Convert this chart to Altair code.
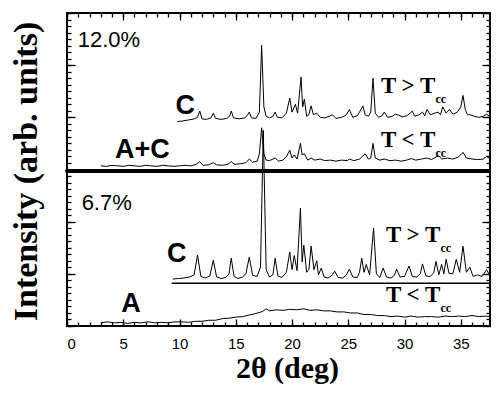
import altair as alt
import pandas as pd

# ---------------- data (2theta in deg, intensity in arb. units, panels stacked) ----------------
A_x = [3.0, 3.6, 4.2, 4.8, 5.4, 6.0, 6.6, 7.2, 7.8, 8.4, 9.0, 9.6, 10.2, 10.8, 11.4, 12.0, 12.6,
       13.2, 13.8, 14.4, 15.0, 15.6, 16.2, 16.8, 17.4, 17.7, 18.0, 18.6, 19.2, 19.8, 20.4, 21.0,
       21.6, 22.2, 22.8, 23.4, 24.0, 24.6, 25.2, 25.8, 26.4, 27.0, 27.6, 28.2, 28.8, 29.4, 30.0,
       30.6, 31.2, 31.8, 32.4, 33.0, 33.6, 34.2, 34.8, 35.4, 36.0, 36.6, 37.2, 37.6]
A_y = [0.06, 0.08, 0.06, 0.07, 0.05, 0.07, 0.06, 0.08, 0.06, 0.07, 0.06, 0.08, 0.08, 0.07, 0.09,
       0.09, 0.11, 0.11, 0.14, 0.15, 0.17, 0.18, 0.21, 0.24, 0.28, 0.33, 0.29, 0.31, 0.30, 0.32,
       0.31, 0.33, 0.30, 0.31, 0.29, 0.29, 0.27, 0.27, 0.25, 0.25, 0.22, 0.22, 0.20, 0.20, 0.18,
       0.19, 0.17, 0.19, 0.17, 0.18, 0.18, 0.17, 0.19, 0.18, 0.19, 0.18, 0.20, 0.18, 0.19, 0.18]

CB_x = [9.4, 9.9, 10.4, 10.9, 11.3, 11.6, 11.9, 12.3, 12.7, 13.0, 13.3, 13.7, 14.1, 14.4, 14.6,
        14.85, 15.2, 15.6, 15.9, 16.2, 16.5, 16.9, 17.2, 17.45, 17.7, 18.0, 18.3, 18.5, 18.75,
        19.1, 19.5, 19.8, 20.0, 20.2, 20.45, 20.75, 20.9, 21.05, 21.3, 21.5, 21.7, 21.95, 22.2,
        22.35, 22.6, 22.85, 23.2, 23.5, 23.8, 24.1, 24.5, 24.8, 25.1, 25.4, 25.8, 26.0, 26.2,
        26.4, 26.6, 26.9, 27.25, 27.5, 27.8, 28.1, 28.4, 28.8, 29.1, 29.3, 29.6, 30.0, 30.4,
        30.7, 31.1, 31.4, 31.6, 31.9, 32.3, 32.6, 32.8, 33.05, 33.3, 33.5, 33.7, 33.95, 34.3,
        34.6, 34.9, 35.2, 35.5, 35.8, 36.1, 36.5, 36.9, 37.3, 37.6]
CB_y = [0.90, 0.91, 0.92, 0.94, 0.98, 1.36, 0.95, 0.92, 0.96, 1.26, 0.94, 0.91, 0.93, 1.00, 1.30,
        0.95, 0.91, 0.94, 1.00, 1.32, 0.97, 0.95, 1.13, 3.75, 1.08, 0.94, 0.98, 1.30, 0.96,
        0.93, 1.03, 1.42, 1.08, 1.35, 1.06, 2.26, 1.23, 1.55, 1.03, 1.08, 1.53, 1.08, 1.25,
        0.98, 1.11, 0.94, 0.92, 0.96, 1.05, 0.93, 0.92, 0.97, 1.09, 0.94, 0.93, 1.03, 1.30,
        1.03, 1.18, 0.98, 1.88, 1.00, 0.93, 1.11, 0.94, 0.92, 0.97, 1.09, 0.94, 0.95, 1.15,
        0.95, 0.94, 1.00, 1.19, 0.96, 0.95, 1.02, 1.24, 0.98, 1.18, 1.00, 1.28, 1.01, 1.00,
        1.28, 1.03, 1.53, 1.03, 1.13, 0.95, 0.98, 0.95, 1.08, 0.96]

AC_x = [3.0, 3.5, 4.0, 4.5, 5.0, 5.5, 6.0, 6.5, 7.0, 7.5, 8.0, 8.5, 9.0, 9.5, 10.0, 10.5, 11.0,
        11.5, 11.8, 12.1, 12.6, 13.0, 13.3, 13.8, 14.3, 14.6, 14.9, 15.4, 15.9, 16.2, 16.5, 16.9,
        17.1, 17.3, 17.5, 17.7, 18.0, 18.3, 18.5, 18.8, 19.2, 19.5, 19.8, 20.0, 20.2, 20.45,
        20.75, 20.9, 21.1, 21.4, 21.7, 22.0, 22.5, 22.9, 23.4, 23.9, 24.4, 24.9, 25.1, 25.5,
        26.0, 26.5, 26.8, 27.0, 27.2, 27.4, 27.8, 28.2, 28.7, 29.2, 29.7, 30.2, 30.6, 31.0,
        31.5, 32.0, 32.4, 32.8, 33.0, 33.3, 33.8, 34.3, 34.8, 35.2, 35.5, 36.0, 36.5, 37.0,
        37.3, 37.6]
AC_y = [3.07, 3.06, 3.08, 3.07, 3.06, 3.08, 3.07, 3.06, 3.08, 3.07, 3.06, 3.08, 3.07, 3.06,
        3.07, 3.08, 3.07, 3.10, 3.15, 3.08, 3.09, 3.13, 3.09, 3.08, 3.10, 3.15, 3.10, 3.11,
        3.13, 3.20, 3.14, 3.16, 3.30, 3.80, 3.30, 3.18, 3.17, 3.20, 3.22, 3.16, 3.18, 3.25,
        3.37, 3.22, 3.28, 3.20, 3.50, 3.28, 3.30, 3.18, 3.22, 3.18, 3.20, 3.17, 3.18, 3.16,
        3.18, 3.17, 3.20, 3.17, 3.20, 3.30, 3.20, 3.22, 3.50, 3.22, 3.18, 3.20, 3.17, 3.18,
        3.16, 3.18, 3.21, 3.18, 3.20, 3.22, 3.19, 3.24, 3.27, 3.20, 3.22, 3.20, 3.24, 3.33,
        3.22, 3.20, 3.19, 3.20, 3.25, 3.20]

CT_x = [9.8, 10.3, 10.8, 11.3, 11.6, 11.8, 12.0, 12.4, 12.8, 13.0, 13.2, 13.7, 14.2, 14.45, 14.6,
        14.8, 15.3, 15.8, 16.0, 16.2, 16.4, 16.8, 17.1, 17.3, 17.5, 17.7, 18.0, 18.3, 18.5, 18.7,
        19.1, 19.5, 19.8, 20.0, 20.3, 20.5, 20.8, 20.95, 21.1, 21.3, 21.5, 21.7, 21.9, 22.2,
        22.5, 22.9, 23.3, 23.6, 23.9, 24.4, 24.8, 25.1, 25.4, 25.8, 26.0, 26.3, 26.5, 26.8,
        27.0, 27.2, 27.4, 27.7, 28.0, 28.2, 28.5, 28.9, 29.2, 29.5, 29.8, 30.2, 30.5, 30.7,
        30.9, 31.3, 31.6, 31.8, 32.0, 32.3, 32.7, 33.0, 33.2, 33.4, 33.7, 34.0, 34.3, 34.7,
        35.0, 35.2, 35.4, 35.6, 35.8, 36.2, 36.6, 37.0, 37.3, 37.6]
CT_y = [3.92, 3.93, 3.95, 3.97, 4.00, 4.12, 3.97, 3.96, 3.99, 4.08, 3.98, 3.96, 3.98, 4.02, 4.12,
        3.99, 3.97, 3.99, 4.03, 4.10, 3.99, 3.98, 4.10, 5.38, 4.20, 4.02, 3.99, 4.02, 4.10, 4.00,
        3.99, 4.08, 4.37, 4.10, 4.25, 4.08, 4.77, 4.20, 4.35, 4.02, 4.05, 4.22, 4.05, 4.08,
        4.00, 3.99, 4.02, 4.05, 3.98, 4.00, 4.04, 4.15, 4.00, 4.03, 4.10, 4.22, 4.05, 4.02,
        4.10, 4.75, 4.08, 4.00, 4.03, 4.10, 4.00, 4.02, 4.06, 4.04, 4.01, 4.03, 4.08, 4.12,
        4.02, 4.05, 4.10, 4.03, 4.15, 4.05, 4.08, 4.10, 4.05, 4.20, 4.08, 4.15, 4.06, 4.10,
        4.20, 4.42, 4.15, 4.05, 4.05, 4.02, 4.00, 4.02, 4.06, 4.01]

# baseline drawn under the crystalline trace of the 6.7% sample
CB_base_x = [9.3]
CB_base_x2 = [37.6]
CB_base_y = [0.82]

# panel divider level
DIVIDER = 2.97

# annotations (data coordinates)
pct_text = ["12.0%", "6.7%"]
pct_x = [0.95, 1.3]
pct_y = [5.48, 2.36]

phase_text = ["C", "A+C", "C", "A"]
phase_x = [10.5, 6.7, 9.76, 5.68]
phase_y = [4.22, 3.37, 1.38, 0.42]

cond_text = ["T > T", "T < T", "T > T", "T < T"]
cond_x = [27.9, 27.9, 28.35, 28.35]
cond_y = [4.6, 3.57, 1.74, 0.59]
sub_text = ["cc", "cc", "cc", "cc"]
sub_x = [32.75, 32.75, 33.2, 33.2]
sub_y = [4.36, 3.32, 1.5, 0.35]

x_major = [0, 5, 10, 15, 20, 25, 30, 35]

# ---------------- build tables ----------------
frames = []
for name, xs_, ys_ in [("A", A_x, A_y), ("C_low", CB_x, CB_y), ("A+C", AC_x, AC_y), ("C_high", CT_x, CT_y)]:
    frames.append(pd.DataFrame({"x": xs_, "y": ys_, "trace": name}))
lines = pd.concat(frames, ignore_index=True)

base_df = pd.DataFrame({"x": CB_base_x, "x2": CB_base_x2, "y": CB_base_y})
pct_df = pd.DataFrame({"x": pct_x, "y": pct_y, "t": pct_text})
phase_df = pd.DataFrame({"x": phase_x, "y": phase_y, "t": phase_text})
cond_df = pd.DataFrame({"x": cond_x, "y": cond_y, "t": cond_text})
sub_df = pd.DataFrame({"x": sub_x, "y": sub_y, "t": sub_text})

xsc = alt.Scale(domain=[0, 37.6], nice=False, zero=False)
ysc = alt.Scale(domain=[0, 6], nice=False, zero=False)

x_minor = list(range(0, 38))
y_major = [0, 1, 2, 3, 4, 5, 6]
y_minor = [i / 8 for i in range(0, 49)]

SANS = "Liberation Sans"
SERIF = "Liberation Serif"


def tick_axis(orient, values, size, **kw):
    return alt.Axis(orient=orient, values=values, tickSize=size, offset=-size, domain=False,
                    grid=False, labels=False, tickColor="black", tickWidth=1.3, title=None, **kw)


# main traces with bottom labelled axis + left titled axis
main = alt.Chart(lines).mark_line(color="black", strokeWidth=1).encode(
    x=alt.X("x:Q", scale=xsc,
            axis=alt.Axis(orient="bottom", values=x_major, tickSize=7, offset=-7, domain=False,
                          grid=False, tickColor="black", tickWidth=1.3, format="d",
                          labelFont=SANS, labelFontSize=15, labelColor="black", labelPadding=10,
                          title="2θ (deg)", titleFont=SERIF, titleFontSize=30,
                          titleFontWeight="bold", titleColor="black", titleX=220, titleY=34)),
    y=alt.Y("y:Q", scale=ysc,
            axis=alt.Axis(orient="left", values=y_major, tickSize=8, offset=-8, domain=False,
                          grid=False, labels=False, tickColor="black", tickWidth=1.3,
                          title="Intensity (arb. units)", titleFont=SERIF, titleFontSize=34,
                          titleFontWeight="bold", titleColor="black", titleAngle=270,
                          titleBaseline="alphabetic", titleX=-39, titleY=158)),
    detail="trace:N",
)


def ghost(xaxis, yaxis):
    return alt.Chart(lines).mark_line(strokeOpacity=0).encode(
        x=alt.X("x:Q", scale=xsc, axis=xaxis),
        y=alt.Y("y:Q", scale=ysc, axis=yaxis),
        detail="trace:N",
    )


g1 = ghost(tick_axis("bottom", x_minor, 4), tick_axis("left", y_minor, 4))
g2 = ghost(tick_axis("top", x_major, 7), tick_axis("right", y_major, 8))
g3 = ghost(tick_axis("top", x_minor, 4), tick_axis("right", y_minor, 4))

base_rule = alt.Chart(base_df).mark_rule(color="black", strokeWidth=1.5).encode(
    x=alt.X("x:Q", scale=xsc, axis=None), x2="x2:Q",
    y=alt.Y("y:Q", scale=ysc, axis=None))

divider = alt.Chart(base_df).mark_rule(color="black", strokeWidth=4, strokeCap="round").encode(
    y=alt.YDatum(DIVIDER, scale=ysc, axis=None))

pct = alt.Chart(pct_df).mark_text(font=SANS, fontSize=22, align="left", baseline="middle",
                                  color="black").encode(
    x=alt.X("x:Q", scale=xsc, axis=None), y=alt.Y("y:Q", scale=ysc, axis=None), text="t:N")

phase = alt.Chart(phase_df).mark_text(font=SANS, fontSize=27, fontWeight="bold", align="center",
                                      baseline="middle", color="black").encode(
    x=alt.X("x:Q", scale=xsc, axis=None), y=alt.Y("y:Q", scale=ysc, axis=None), text="t:N")

cond = alt.Chart(cond_df).mark_text(font=SERIF, fontSize=23, fontWeight="bold", align="left",
                                    baseline="middle", color="black").encode(
    x=alt.X("x:Q", scale=xsc, axis=None), y=alt.Y("y:Q", scale=ysc, axis=None), text="t:N")

sub = alt.Chart(sub_df).mark_text(font=SERIF, fontSize=12, fontWeight="bold", align="left",
                                  baseline="middle", color="black").encode(
    x=alt.X("x:Q", scale=xsc, axis=None), y=alt.Y("y:Q", scale=ysc, axis=None), text="t:N")

chart = alt.layer(main, g1, g2, g3, base_rule, divider, pct, phase, cond, sub).resolve_axis(
    x="independent", y="independent"
).properties(
    width=423, height=313,
    autosize=alt.AutoSizeParams(type="none"),
    padding={"left": 59, "top": 5, "right": 1, "bottom": 59},
    background="white",
).configure_view(stroke="black", strokeWidth=2)

chart.save("out.html", embed_options={"renderer": "svg", "actions": False})
